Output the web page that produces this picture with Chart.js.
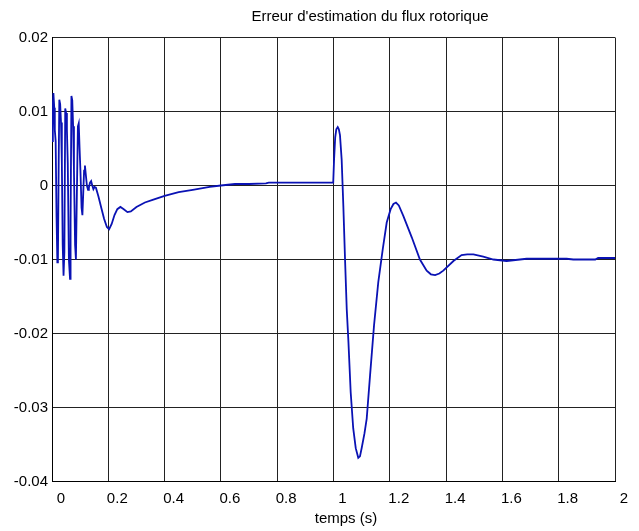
<!DOCTYPE html>
<html lang="fr">

<head>
    <meta charset="UTF-8">
    <title>Erreur d'estimation du flux rotorique</title>
    <script src="https://cdn.jsdelivr.net/npm/chart.js"></script>
    <style>
        body {
            margin: 0;
            background: #fff;
        }

        #wrap {
            width: 639px;
            height: 531px;
        }
    </style>
</head>

<body>
    <div id="wrap"><canvas id="fluxErreur"></canvas></div>

    <script>
        // time samples (s) and estimation error of the rotor flux
        const temps = [
            0, 0.003, 0.005, 0.008, 0.010, 0.013, 0.016, 0.019, 0.021, 0.024,
            0.026, 0.029, 0.032, 0.035, 0.038, 0.041, 0.044, 0.047, 0.050, 0.053,
            0.056, 0.060, 0.064, 0.066, 0.069, 0.072, 0.075, 0.078, 0.082, 0.085,
            0.088, 0.092, 0.095, 0.098, 0.101, 0.105, 0.108, 0.111, 0.114, 0.117,
            0.120, 0.124, 0.128, 0.131, 0.135, 0.139, 0.143, 0.147, 0.151, 0.156,
            0.165, 0.175, 0.185, 0.195, 0.203, 0.212, 0.222, 0.232, 0.243, 0.255,
            0.268, 0.280, 0.300, 0.330, 0.360, 0.400, 0.450, 0.500, 0.560, 0.600,
            0.650, 0.700, 0.760, 0.770, 0.800, 0.900, 0.999, 1.002, 1.006, 1.010,
            1.015, 1.019, 1.023, 1.029, 1.035, 1.041, 1.047, 1.053, 1.061, 1.070,
            1.079, 1.088, 1.094, 1.100, 1.110, 1.118, 1.130, 1.144, 1.159, 1.175,
            1.189, 1.203, 1.213, 1.222, 1.232, 1.248, 1.278, 1.307, 1.331, 1.346,
            1.361, 1.376, 1.390, 1.426, 1.455, 1.475, 1.497, 1.532, 1.568, 1.615,
            1.686, 1.828, 1.852, 1.930, 1.940, 2.000
        ];
        const erreur = [
            0.0060, 0.0110, 0.0125, 0.0105, 0.0075, 0.0060, -0.0040, -0.0104, -0.0102, 0.0040,
            0.0116, 0.0110, 0.0085, 0.0030, -0.0080, -0.0122, -0.0090, 0.0104, 0.0098, 0.0075,
            0.0030, -0.0100, -0.0126, -0.0050, 0.0121, 0.0115, 0.0080, 0.0020, -0.0080, -0.0100,
            -0.0020, 0.0080, 0.0084, 0.0050, 0.0020, -0.0030, -0.0040, -0.0010, 0.0020, 0.0027,
            0.0015, 0.0000, -0.0006, -0.0003, 0.0004, 0.0006, 0.0000, -0.0005, -0.0002, -0.0003,
            -0.0015, -0.0030, -0.0045, -0.0056, -0.0059, -0.0052, -0.0040, -0.0032, -0.0029, -0.0032,
            -0.0036, -0.0035, -0.0029, -0.0023, -0.0019, -0.0014, -0.0009, -0.0006, -0.0002, 0.0000,
            0.0002, 0.0002, 0.0003, 0.0004, 0.0004, 0.0004, 0.0004, 0.0035, 0.0065, 0.0076,
            0.0079, 0.0076, 0.0068, 0.0035, -0.0028, -0.0100, -0.0167, -0.0211, -0.0279, -0.0328,
            -0.0355, -0.0368, -0.0366, -0.0355, -0.0335, -0.0315, -0.0256, -0.0189, -0.0131, -0.0086,
            -0.0050, -0.0032, -0.0025, -0.0023, -0.0027, -0.0041, -0.0070, -0.0100, -0.0115, -0.0120,
            -0.0121, -0.0119, -0.0115, -0.0102, -0.0094, -0.0093, -0.0093, -0.0096, -0.0100, -0.0102,
            -0.0099, -0.0099, -0.0100, -0.0100, -0.0098, -0.0098
        ];
        const titre = "Erreur d'estimation du flux rotorique";
        const axeX = 'temps (s)';

        const police = "15px 'Liberation Sans', Arial, sans-serif";

        // title and x-axis caption, placed relative to the plot box
        const legendes = {
            id: 'legendes',
            afterDraw(chart) {
                const { ctx, chartArea } = chart;
                ctx.save();
                ctx.font = police;
                ctx.fillStyle = '#000';
                ctx.textAlign = 'center';
                ctx.textBaseline = 'middle';
                ctx.fillText(titre, chartArea.left + 318, 17);
                ctx.fillText(axeX, chartArea.left + 294, 519);
                ctx.restore();
            }
        };

        const points = temps.map((t, i) => ({ x: t, y: erreur[i] }));

        new Chart(document.getElementById('fluxErreur'), {
            type: 'line',
            data: {
                datasets: [{
                    data: points,
                    borderColor: '#0a12b4',
                    borderWidth: 1.8,
                    pointRadius: 0,
                    tension: 0,
                    fill: false
                }]
            },
            options: {
                responsive: true,
                maintainAspectRatio: false,
                animation: false,
                layout: { padding: { top: 37.5, right: 24, left: 0, bottom: 0 } },
                plugins: {
                    legend: { display: false },
                    tooltip: { enabled: false }
                },
                scales: {
                    x: {
                        type: 'linear',
                        min: 0,
                        max: 2,
                        afterFit(scale) { scale.height = 49.5; },
                        grid: { color: '#222', lineWidth: 1, drawTicks: false },
                        border: { color: '#000', width: 1 },
                        ticks: {
                            stepSize: 0.2,
                            padding: 8,
                            labelOffset: 9,
                            maxRotation: 0,
                            color: '#000',
                            font: { family: "'Liberation Sans', Arial, sans-serif", size: 15 },
                            callback: v => String(+v.toFixed(1))
                        }
                    },
                    y: {
                        min: -0.04,
                        max: 0.02,
                        afterFit(scale) { scale.width = 52; },
                        grid: { color: '#222', lineWidth: 1, drawTicks: false },
                        border: { color: '#000', width: 1 },
                        ticks: {
                            stepSize: 0.01,
                            padding: 4,
                            color: '#000',
                            font: { family: "'Liberation Sans', Arial, sans-serif", size: 15 },
                            callback: v => String(+v.toFixed(2))
                        }
                    }
                }
            },
            plugins: [legendes]
        });
    </script>
</body>

</html>
